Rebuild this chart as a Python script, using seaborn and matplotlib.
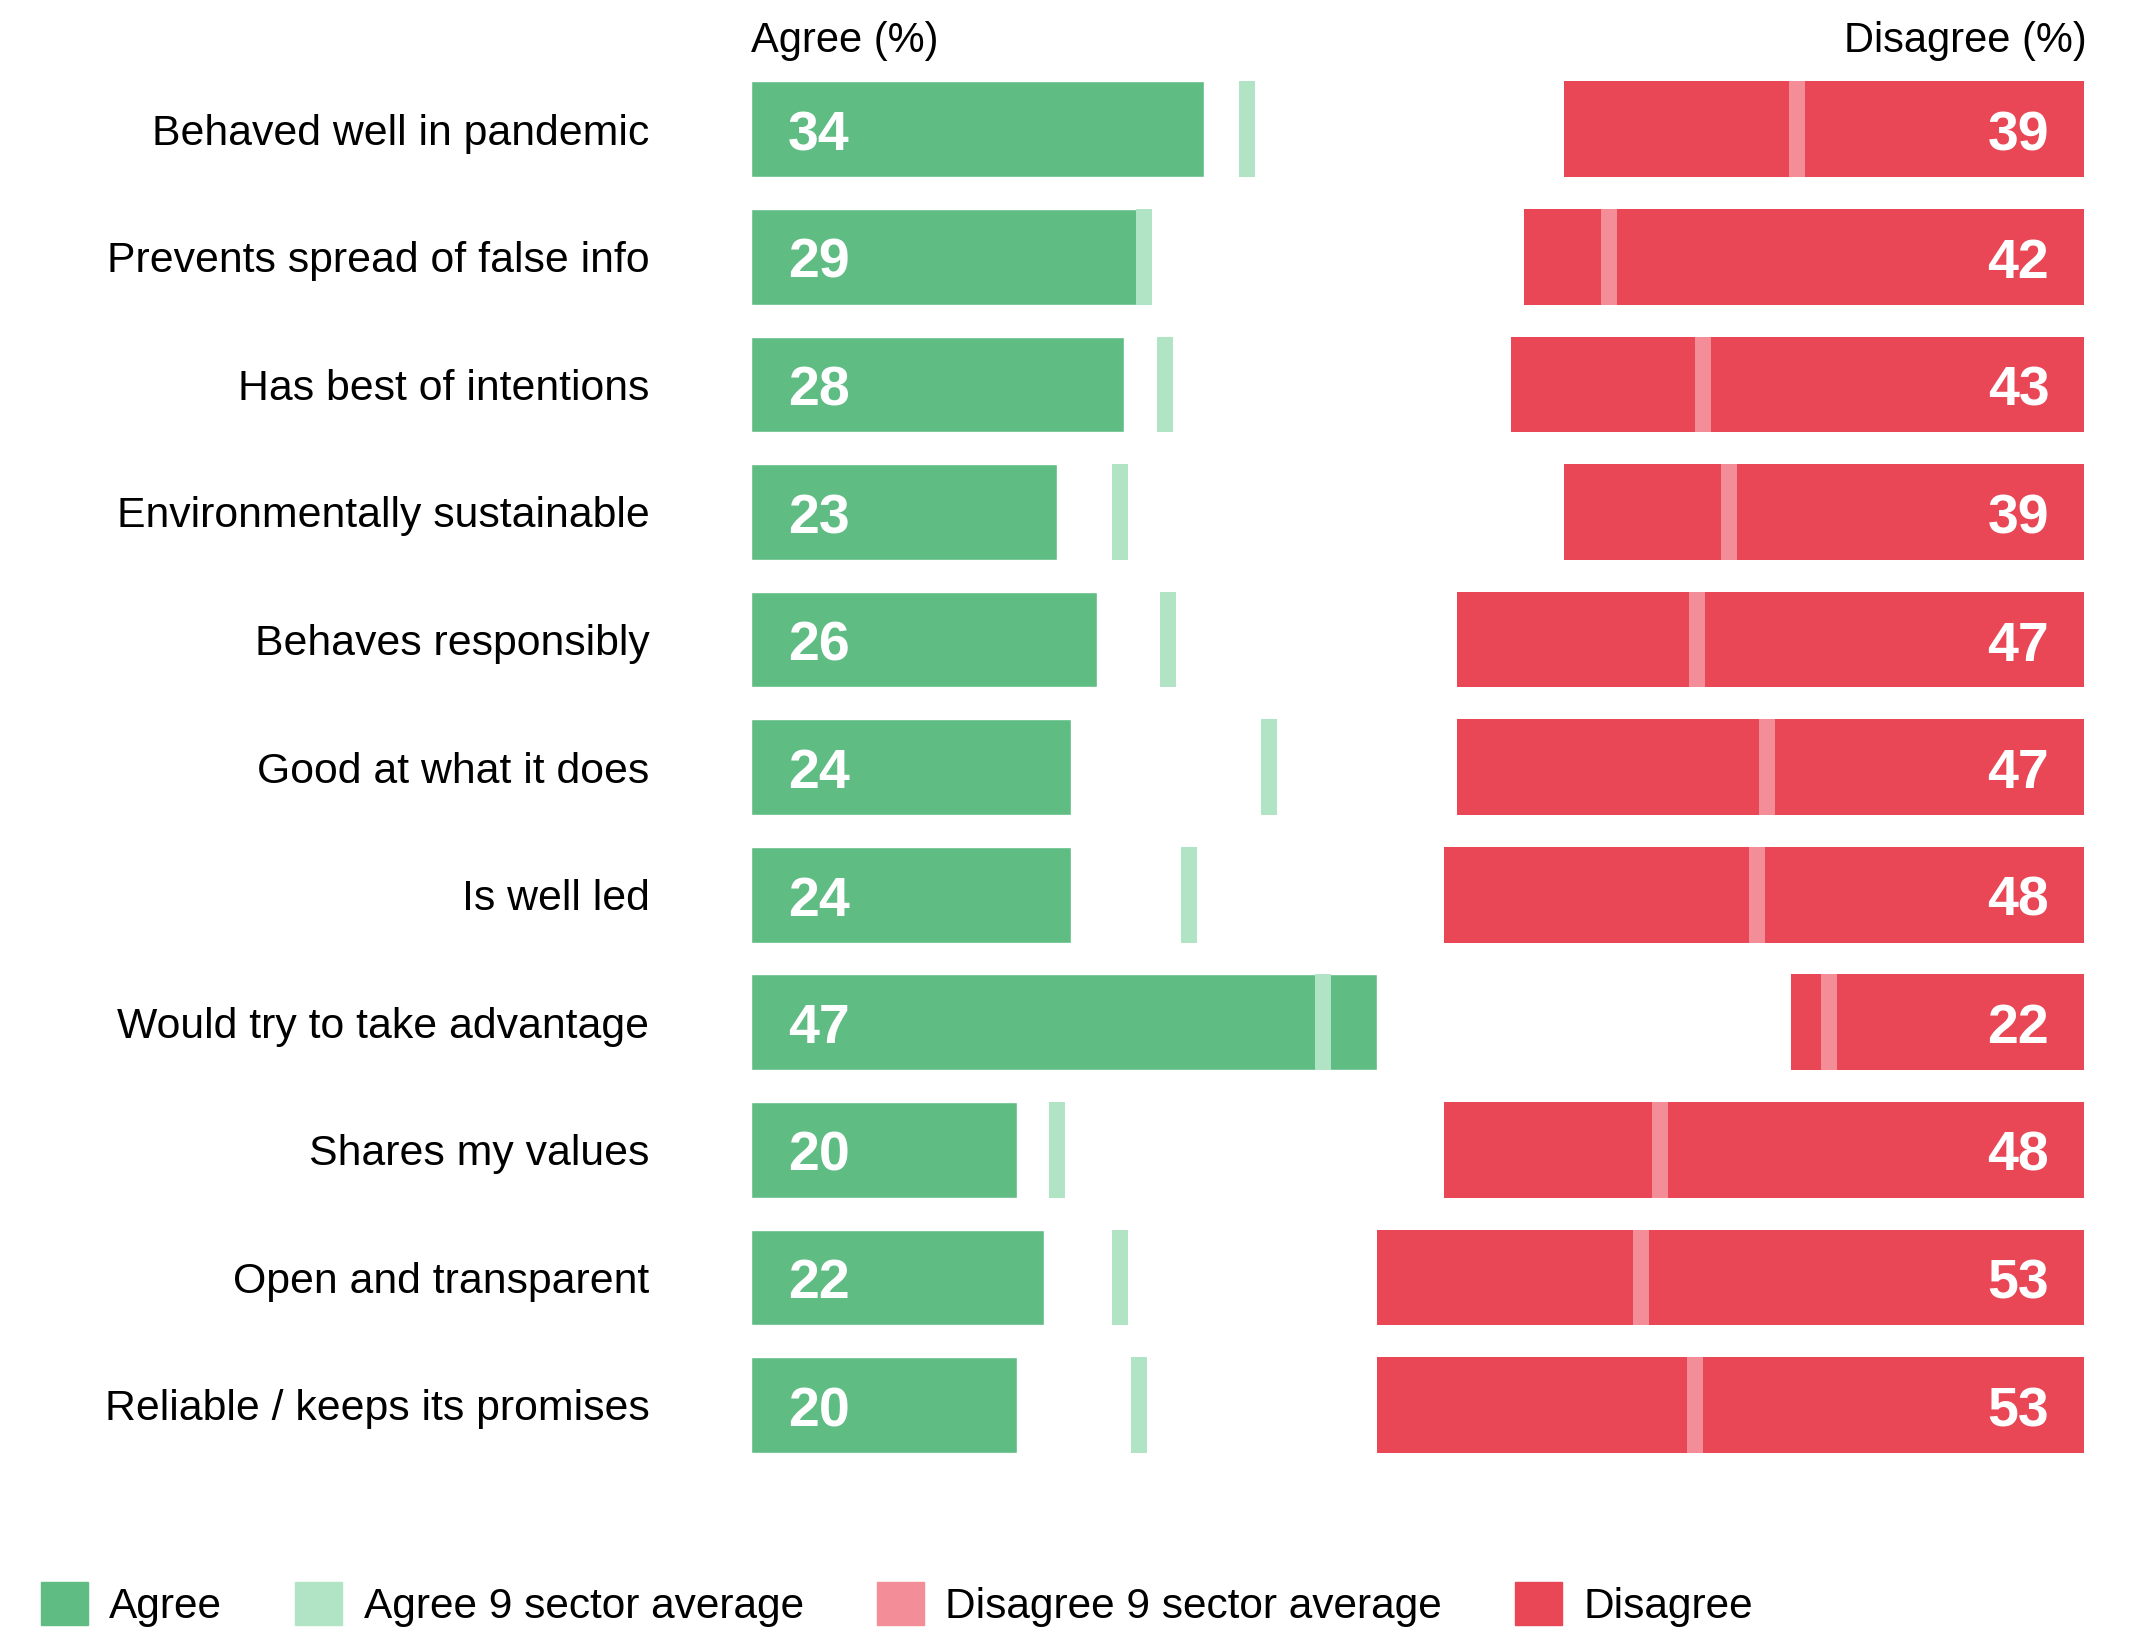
import pandas as pd
import matplotlib.pyplot as plt
import seaborn as sns
from matplotlib.patches import Patch

statements = [
    "Behaved well in pandemic",
    "Prevents spread of false info",
    "Has best of intentions",
    "Environmentally sustainable",
    "Behaves responsibly",
    "Good at what it does",
    "Is well led",
    "Would try to take advantage",
    "Shares my values",
    "Open and transparent",
    "Reliable / keeps its promises",
]
agree = [34, 29, 28, 23, 26, 24, 24, 47, 20, 22, 20]
disagree = [39, 42, 43, 39, 47, 47, 48, 22, 48, 53, 53]
agree_avg = [37.2, 29.5, 31.1, 27.7, 31.3, 38.9, 32.9, 42.9, 23.0, 27.7, 29.1]
disagree_avg = [21.5, 35.6, 28.6, 26.6, 29.0, 23.8, 24.5, 19.1, 31.8, 33.2, 29.2]

green = "#5fbc83"
green_light = "#b1e3c5"
red = "#e94656"
red_light = "#f38d97"

sns.set_style("white")
plt.rcParams['font.family'] = ['Liberation Sans', 'DejaVu Sans']
plt.rcParams['text.color'] = 'black'

df = pd.DataFrame({
    "statement": statements,
    "agree": agree,
    "disagree": disagree,
    "agree_avg": agree_avg,
    "disagree_avg": disagree_avg,
})
df["pos"] = range(len(df))

fig = plt.figure(figsize=(21.33, 16.28), dpi=100)
ax = fig.add_axes([0.352, 0.0978, 0.625, 0.862])

# agree bars from the left
sns.barplot(data=df, x="agree", y="statement", orient="h", color=green,
            saturation=1, width=0.75, ax=ax)

# disagree bars hang from the right edge (100)
ax.barh(df["pos"], df["disagree"], left=100 - df["disagree"], height=0.75,
        color=red, linewidth=0)

# sector average markers
mw = 1.2
ax.barh(df["pos"], mw, left=df["agree_avg"] - mw / 2, height=0.75,
        color=green_light, linewidth=0)
ax.barh(df["pos"], mw, left=100 - df["disagree_avg"] - mw / 2, height=0.75,
        color=red_light, linewidth=0)

for i, row in df.iterrows():
    ax.text(2.8, row["pos"] + 0.165, str(row["agree"]), ha="left", va="baseline",
            color="white", fontsize=40, fontweight="bold")
    ax.text(100 - 2.6, row["pos"] + 0.165, str(row["disagree"]), ha="right",
            va="baseline", color="white", fontsize=40, fontweight="bold")

ax.set_xlim(0, 100)
ax.set_ylim(len(df) - 0.5, -0.5)
ax.set_xticks([])
ax.set_xlabel("")
ax.set_ylabel("")
ax.tick_params(axis="y", length=0, pad=73, labelsize=30.8, labelcolor="black")
sns.despine(ax=ax, left=True, bottom=True)

fig.text(0.352, 0.968, "Agree (%)", ha="left", va="baseline", fontsize=30)
fig.text(0.9785, 0.968, "Disagree (%)", ha="right", va="baseline", fontsize=30)

handles = [Patch(color=green), Patch(color=green_light),
           Patch(color=red_light), Patch(color=red)]
labels = ["Agree", "Agree 9 sector average", "Disagree 9 sector average", "Disagree"]
fig.legend(handles, labels, loc="upper left", bbox_to_anchor=(0.019, 0.0284),
           ncol=4, frameon=False, fontsize=30.5, handlelength=1.12,
           handleheight=1.2, handletextpad=0.5, columnspacing=1.72,
           borderpad=0, borderaxespad=0)

fig.savefig("out.png", dpi=100)
